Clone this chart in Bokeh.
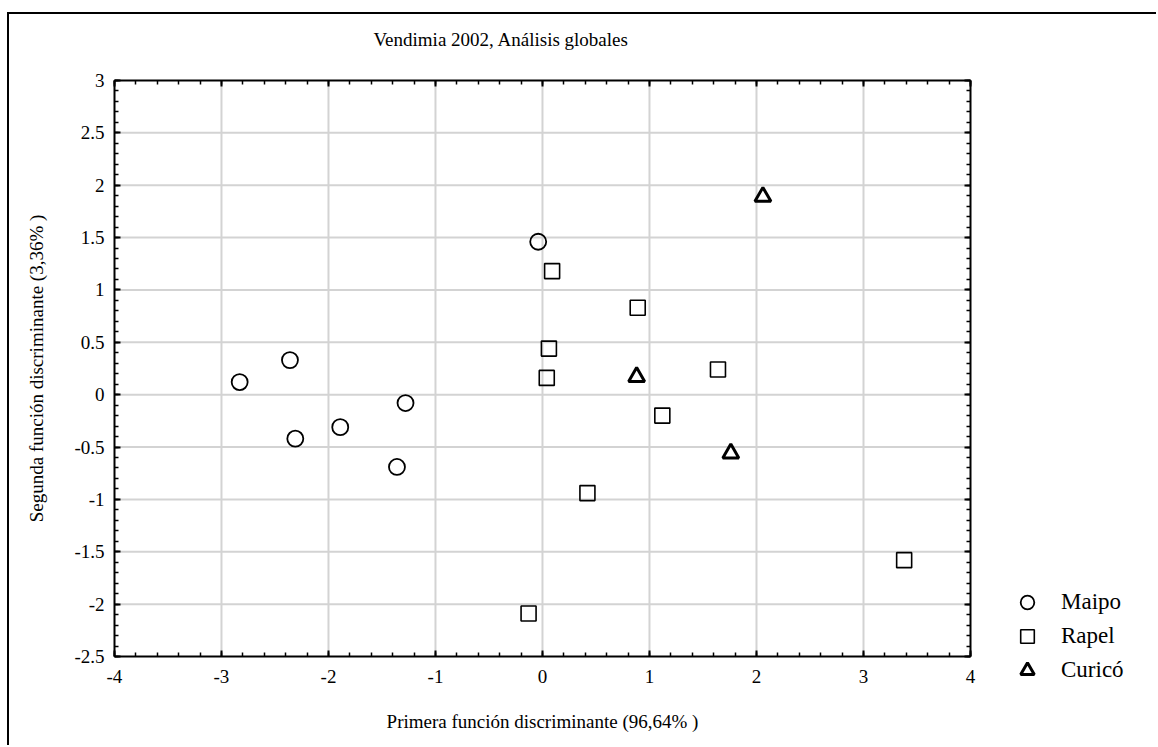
from bokeh.plotting import figure
from bokeh.models import (LinearAxis, SingleIntervalTicker, CustomJSTickFormatter,
                          Legend, LegendItem, Range1d)
from bokeh.embed import file_html
from bokeh.resources import INLINE

# ---- data ----
maipo_x = [-2.83, -2.36, -2.31, -1.89, -1.28, -1.36, -0.04]
maipo_y = [0.12, 0.33, -0.42, -0.31, -0.08, -0.69, 1.46]
rapel_x = [0.09, 0.89, 0.06, 0.04, 1.64, 1.12, 0.42, -0.13, 3.38]
rapel_y = [1.18, 0.83, 0.44, 0.16, 0.24, -0.20, -0.94, -2.09, -1.58]
curico_x = [2.06, 0.88, 1.76]
curico_y = [1.89, 0.17, -0.56]
group_names = ["Maipo", "Rapel", "Curicó"]

x_ticks = [-4, -3, -2, -1, 0, 1, 2, 3, 4]
y_ticks = [-2.5, -2, -1.5, -1, -0.5, 0, 0.5, 1, 1.5, 2, 2.5, 3]

title_text = "Vendimia 2002, Análisis globales"
x_label = "Primera función discriminante (96,64% )"
y_label = "Segunda función discriminante (3,36% )"

FONT = "Liberation Serif"
FS = "19px"

# plotting box: x in [-4, 4], y in [-2.5, 3]; the visible ranges are wider
# (empty white margin) so that labels and the legend can sit outside the box.
X0, X1 = x_ticks[0], x_ticks[-1]
Y0, Y1 = y_ticks[0], y_ticks[-1]

p = figure(width=1149, height=733,
           x_range=Range1d(-4.981, 5.757), y_range=Range1d(-3.369, 3.143),
           output_backend="svg", toolbar_location=None,
           min_border_left=0, min_border_right=0,
           min_border_top=0, min_border_bottom=0,
           background_fill_color="white", border_fill_color="white")

p.styles = {"border-top": "2px solid black", "border-left": "2px solid black",
            "margin-top": "12px", "margin-left": "7px"}

p.outline_line_color = None
p.grid.visible = False

fmt = CustomJSTickFormatter(code="return (Math.round(tick*100)/100).toString();")
blank = CustomJSTickFormatter(code="return '';")
xt = SingleIntervalTicker(interval=1, num_minor_ticks=5)
yt = SingleIntervalTicker(interval=0.5, num_minor_ticks=5)


def style_axis(ax, labels=True):
    ax.axis_line_width = 2
    ax.axis_line_color = "black"
    ax.major_tick_in = 6
    ax.major_tick_out = 0
    ax.minor_tick_in = 4
    ax.minor_tick_out = 0
    ax.major_tick_line_width = 2
    ax.minor_tick_line_width = 1.5
    ax.major_tick_line_color = "black"
    ax.minor_tick_line_color = "black"
    if labels:
        ax.major_label_text_font = FONT
        ax.major_label_text_font_size = FS
        ax.major_label_text_color = "black"
        ax.axis_label_text_font = FONT
        ax.axis_label_text_font_size = FS
        ax.axis_label_text_font_style = "normal"
        ax.axis_label_text_color = "black"
    else:
        ax.major_label_standoff = 0


bx = p.xaxis[0]
ly = p.yaxis[0]
bx.ticker = xt
ly.ticker = yt
bx.formatter = fmt
ly.formatter = fmt
style_axis(bx)
style_axis(ly)
bx.axis_label = x_label
ly.axis_label = y_label
bx.major_label_standoff = 14
ly.major_label_standoff = 10
bx.axis_label_standoff = 24
ly.axis_label_standoff = 24
bx.bounds = (X0, X1)
ly.bounds = (Y0, Y1)
bx.fixed_location = Y0
ly.fixed_location = X0

top_ax = LinearAxis(ticker=xt, formatter=blank, bounds=(X0, X1), fixed_location=Y1)
right_ax = LinearAxis(ticker=yt, formatter=blank, bounds=(Y0, Y1), fixed_location=X1)
style_axis(top_ax, labels=False)
style_axis(right_ax, labels=False)
p.add_layout(top_ax, "above")
p.add_layout(right_ax, "right")

# grid lines inside the plotting box
gx = x_ticks[1:-1]
gy = y_ticks[1:-1]
p.segment(x0=gx, x1=gx, y0=[Y0] * len(gx), y1=[Y1] * len(gx),
          line_color="#d3d3d3", line_width=2)
p.segment(x0=[X0] * len(gy), x1=[X1] * len(gy), y0=gy, y1=gy,
          line_color="#d3d3d3", line_width=2)

p.title.text = title_text
p.title.text_font = FONT
p.title.text_font_size = FS
p.title.text_font_style = "normal"
p.title.text_color = "black"
p.title.align = "left"
p.title.vertical_align = "top"
p.title.offset = 364
p.title.standoff = 28

r1 = p.scatter(maipo_x, maipo_y, marker="circle", size=16, fill_color=None,
               line_color="black", line_width=1.8)
r2 = p.scatter(rapel_x, rapel_y, marker="square", size=15, fill_color=None,
               line_color="black", line_width=1.6)
r3 = p.scatter(curico_x, curico_y, marker="triangle", size=16, fill_color=None,
               line_color="black", line_width=3)

legend = Legend(items=[LegendItem(label=group_names[0], renderers=[r1]),
                       LegendItem(label=group_names[1], renderers=[r2]),
                       LegendItem(label=group_names[2], renderers=[r3])],
                location=(998, 60))
legend.padding = 0
legend.margin = 0
legend.border_line_alpha = 0
legend.background_fill_alpha = 0
legend.glyph_width = 40
legend.glyph_height = 34
legend.label_height = 20
legend.spacing = 0
legend.label_standoff = 14
legend.label_text_font = FONT
legend.label_text_font_size = "23px"
legend.label_text_color = "black"
p.add_layout(legend, "center")

open("out.html", "w").write(file_html(p, INLINE))
